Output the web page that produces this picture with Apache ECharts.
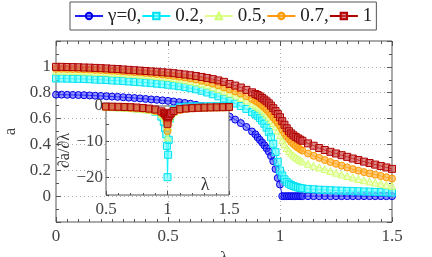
<!DOCTYPE html>
<html><head><meta charset="utf-8">
<script src="https://cdn.jsdelivr.net/npm/echarts@6/dist/echarts.min.js"></script>
<style>html,body{margin:0;padding:0;background:#fff}#c{width:432px;height:257px}</style>
</head><body><div id="c"></div>
<script>
// main plot: lambda grid
const lam = [0,0.025,0.05,0.075,0.1,0.125,0.15,0.175,0.2,0.225,0.25,0.275,0.3,0.325,0.35,0.375,0.4,0.425,0.45,0.475,0.5,0.525,0.55,0.575,0.6,0.625,0.65,0.675,0.7,0.725,0.75,0.775,0.8,0.825,0.85,0.875,
  0.89,0.9,0.91,0.92,0.93,0.94,0.95,0.96,0.97,0.98,0.99,1.0,1.01,1.02,1.03,1.04,1.05,1.06,1.07,1.08,1.09,1.1,
  1.125,1.15,1.175,1.2,1.225,1.25,1.275,1.3,1.325,1.35,1.375,1.4,1.425,1.45,1.475,1.5];
const a_g0 = [0.785,0.785,0.784,0.783,0.782,0.781,0.779,0.777,0.775,0.773,0.770,0.768,0.765,0.762,0.759,0.756,0.752,0.748,0.745,0.741,0.737,0.732,0.727,0.721,0.715,0.706,0.697,0.685,0.672,0.657,0.637,0.615,0.592,0.565,0.535,0.500,
  0.478,0.455,0.435,0.415,0.393,0.370,0.345,0.310,0.270,0.210,0.140,0.090,0,0,0,0,0,0,0,0,0,0,
  0,0,0,0,0,0,0,0,0,0,0,0,0,0,0,0];
const a_g02 = [0.910,0.910,0.909,0.908,0.907,0.906,0.904,0.902,0.900,0.898,0.895,0.893,0.890,0.887,0.884,0.881,0.878,0.874,0.870,0.866,0.862,0.856,0.850,0.843,0.835,0.826,0.815,0.802,0.788,0.772,0.755,0.737,0.717,0.697,0.675,0.650,
  0.635,0.622,0.605,0.585,0.560,0.530,0.495,0.455,0.405,0.340,0.265,0.198,0.160,0.130,0.110,0.096,0.086,0.078,0.072,0.067,0.063,0.060,
  0.056,0.053,0.050,0.048,0.046,0.044,0.042,0.041,0.039,0.038,0.036,0.035,0.033,0.031,0.029,0.027];
const a_g05 = [0.970,0.970,0.969,0.968,0.967,0.965,0.964,0.962,0.960,0.958,0.955,0.953,0.950,0.947,0.944,0.940,0.937,0.933,0.929,0.925,0.920,0.914,0.908,0.900,0.890,0.880,0.869,0.857,0.843,0.828,0.812,0.795,0.778,0.760,0.740,0.718,
  0.703,0.692,0.679,0.664,0.648,0.630,0.611,0.590,0.566,0.540,0.507,0.470,0.432,0.400,0.372,0.350,0.331,0.315,0.301,0.289,0.278,0.268,
  0.250,0.235,0.222,0.209,0.195,0.181,0.168,0.156,0.144,0.133,0.123,0.114,0.105,0.097,0.088,0.080];
const a_g07 = [0.985,0.985,0.984,0.983,0.982,0.980,0.979,0.977,0.975,0.973,0.970,0.968,0.965,0.962,0.959,0.956,0.952,0.948,0.944,0.940,0.935,0.930,0.924,0.918,0.910,0.902,0.893,0.882,0.870,0.857,0.842,0.825,0.810,0.793,0.773,0.752,
  0.738,0.728,0.716,0.702,0.687,0.670,0.652,0.632,0.610,0.588,0.567,0.545,0.515,0.487,0.462,0.440,0.420,0.403,0.388,0.375,0.363,0.352,
  0.330,0.312,0.296,0.279,0.264,0.250,0.236,0.222,0.209,0.197,0.186,0.176,0.166,0.156,0.146,0.136];
const a_g1 = [1.000,1.000,0.999,0.998,0.997,0.995,0.994,0.992,0.990,0.988,0.985,0.983,0.980,0.977,0.974,0.971,0.968,0.965,0.962,0.958,0.955,0.951,0.946,0.941,0.935,0.929,0.922,0.914,0.905,0.895,0.884,0.868,0.855,0.840,0.822,0.803,
  0.790,0.782,0.772,0.760,0.747,0.733,0.718,0.700,0.680,0.658,0.635,0.610,0.580,0.552,0.525,0.502,0.485,0.470,0.458,0.447,0.437,0.428,
  0.408,0.390,0.372,0.357,0.343,0.330,0.317,0.304,0.291,0.279,0.267,0.256,0.244,0.233,0.222,0.211];

// inset: derivative
const dlam = [0.5,0.55,0.6,0.65,0.7,0.75,0.8,0.85,0.9,0.95,0.97,0.98,0.99,0.995,1.0,1.005,1.01,1.02,1.03,1.05,1.1,1.15,1.2,1.25,1.3,1.35,1.4,1.45,1.5];
const d_g02 = [-0.2,-0.25,-0.32,-0.4,-0.52,-0.68,-0.85,-1.1,-1.6,-3.0,-4.5,-6.2,-8.0,-11.2,-20,-13.7,-9.5,-3.5,-2.0,-1.0,-0.3,-0.15,-0.1,-0.08,-0.07,-0.06,-0.06,-0.05,-0.05];
const d_g05 = [-0.3,-0.35,-0.42,-0.5,-0.62,-0.75,-0.9,-1.1,-1.45,-2.2,-2.8,-3.3,-4.2,-5.5,-8.8,-5.8,-4.4,-3.2,-2.5,-1.7,-0.95,-0.65,-0.52,-0.45,-0.42,-0.38,-0.35,-0.33,-0.3];
const d_g07 = [-0.25,-0.3,-0.36,-0.44,-0.54,-0.66,-0.8,-1.0,-1.35,-2.0,-2.4,-2.8,-3.4,-4.2,-7.1,-4.5,-3.6,-2.8,-2.3,-1.7,-1.1,-0.8,-0.65,-0.55,-0.5,-0.45,-0.42,-0.4,-0.38];
const d_g1 = [-0.15,-0.18,-0.22,-0.27,-0.33,-0.42,-0.55,-0.72,-1.0,-1.5,-1.9,-2.2,-2.6,-3.0,-5.0,-3.2,-2.8,-2.3,-1.9,-1.4,-0.9,-0.7,-0.6,-0.5,-0.45,-0.4,-0.37,-0.34,-0.3];

const names = ['γ=0,','0.2,','0.5,','0.7,','1'];
const mainData = [a_g0, a_g02, a_g05, a_g07, a_g1];
const insetData = [null, d_g02, d_g05, d_g07, d_g1];

const styles = [
  {sym:'circle',   line:'#2020ff', fill:'rgba(60,60,255,0.55)',  border:'#0000e6'},
  {sym:'rect',     line:'#00f0ff', fill:'rgba(90,255,255,0.6)',  border:'#00e0f0'},
  {sym:'triangle', line:'#dfff8a', fill:'rgba(235,255,170,0.65)',border:'#d0ff70'},
  {sym:'circle',   line:'#ff9a10', fill:'rgba(255,175,50,0.65)', border:'#ff9900'},
  {sym:'rect',     line:'#b00000', fill:'rgba(205,70,70,0.65)',  border:'#b00000'}
];

const FONT = 'Liberation Serif';
const AX = '#555';
const series = [];
mainData.forEach((vals, k) => {
  const s = styles[k];
  series.push({
    name: names[k], type: 'line', xAxisIndex: 0, yAxisIndex: 0, z: 2,
    data: lam.map((x, i) => [x, vals[i]]),
    symbol: s.sym, symbolSize: 7, showAllSymbol: true,
    lineStyle: {width: 1, color: s.line},
    itemStyle: {color: s.fill, borderColor: s.border, borderWidth: 1},
    animation: false, silent: true
  });
});
insetData.forEach((vals, k) => {
  if (!vals) return;
  const s = styles[k];
  series.push({
    name: names[k], type: 'line', xAxisIndex: 2, yAxisIndex: 2, z: 6,
    data: dlam.map((x, i) => [x, vals[i]]),
    symbol: s.sym, symbolSize: 7, showAllSymbol: true,
    lineStyle: {width: 1, color: s.line},
    itemStyle: {color: s.fill, borderColor: s.border, borderWidth: 1},
    animation: false, silent: true
  });
});

const lbl = {fontFamily: FONT, fontSize: 17, color: '#444'};
const dotted = {show: true, lineStyle: {color: '#b0b0b0', type: [1, 3], width: 1}};
const noLine = {show: false, onZero: false};

const option = {
  animation: false,
  legend: {
    data: names, left: 70, top: 2, orient: 'horizontal',
    itemWidth: 28, itemHeight: 8, itemGap: 0,
    padding: [3, 4], borderColor: '#555', borderWidth: 1, backgroundColor: '#fff',
    selectedMode: false,
    textStyle: {fontFamily: FONT, fontSize: 19, color: '#222', lineHeight: 22}
  },
  grid: [
    {left: 56, right: 40, top: 41, bottom: 35, show: true, borderColor: AX, borderWidth: 1, backgroundColor: 'transparent', outerBoundsMode: 'none', containLabel: false},
    {left: 106, right: 203, top: 106, bottom: 62, show: true, borderColor: AX, borderWidth: 1, backgroundColor: '#fff', z: 3, outerBoundsMode: 'none', containLabel: false}
  ],
  xAxis: [
    {type: 'value', gridIndex: 0, min: 0, max: 1.5, interval: 0.5, position: 'bottom',
     axisLine: noLine, axisTick: {inside: true, length: 5, lineStyle: {color: AX}},
     minorTick: {show: true, splitNumber: 10, length: 3, lineStyle: {color: AX}},
     axisLabel: Object.assign({margin: 6}, lbl), splitLine: dotted,
     name: 'λ', nameLocation: 'middle', nameGap: 24, nameTextStyle: {fontFamily: FONT, fontSize: 17, color: '#444'}},
    {type: 'value', gridIndex: 0, min: 0, max: 1.5, interval: 0.5, position: 'top',
     axisLine: noLine, axisTick: {inside: true, length: 5, lineStyle: {color: AX}},
     minorTick: {show: true, splitNumber: 10, length: 3, lineStyle: {color: AX}},
     axisLabel: {show: false}, splitLine: {show: false}},
    {type: 'value', gridIndex: 1, min: 0.5, max: 1.5, interval: 0.5, position: 'bottom', z: 4,
     axisLine: noLine, axisTick: {inside: true, length: 4, lineStyle: {color: AX}},
     minorTick: {show: true, splitNumber: 5, length: 2, lineStyle: {color: AX}},
     axisLabel: Object.assign({margin: 6}, lbl), splitLine: dotted,
     name: 'λ', nameLocation: 'end', nameGap: -24,
     nameTextStyle: {fontFamily: FONT, fontSize: 18, color: '#333', align: 'center', verticalAlign: 'bottom', padding: [0, 0, 1, 0]}}
  ],
  yAxis: [
    {type: 'value', gridIndex: 0, min: -0.2, max: 1.2, interval: 0.2, position: 'left',
     axisLine: noLine, axisTick: {inside: true, length: 5, lineStyle: {color: AX}},
     minorTick: {show: true, splitNumber: 2, length: 3, lineStyle: {color: AX}},
     axisLabel: Object.assign({margin: 5, formatter: v => (v < -0.05 || v > 1.05) ? '' : String(+v.toFixed(1))}, lbl),
     splitLine: dotted,
     name: 'a', nameLocation: 'middle', nameGap: 31, nameTextStyle: {fontFamily: FONT, fontSize: 17, color: '#444'}},
    {type: 'value', gridIndex: 0, min: -0.2, max: 1.2, interval: 0.2, position: 'right',
     axisLine: noLine, axisTick: {inside: true, length: 5, lineStyle: {color: AX}},
     minorTick: {show: true, splitNumber: 2, length: 3, lineStyle: {color: AX}},
     axisLabel: {show: false}, splitLine: {show: false}},
    {type: 'value', gridIndex: 1, min: -25, max: 0, interval: 5, position: 'left', z: 4,
     axisLine: noLine, axisTick: {inside: true, length: 3, lineStyle: {color: AX}},
     axisLabel: Object.assign({margin: 3, formatter: v => (Math.round(v) % 10 === 0) ? (v < 0 ? '\u2212' + (-v) : String(v)) : ''}, lbl),
     splitLine: {show: true, lineStyle: {color: ['rgba(0,0,0,0)', '#b0b0b0'], type: [1, 3], width: 1}},
     name: '∂a/∂λ', nameLocation: 'middle', nameGap: -17,
     nameTextStyle: {fontFamily: FONT, fontSize: 16, color: '#333'}}
  ],
  series: series
};
const chart = echarts.init(document.getElementById('c'), null, {renderer: 'canvas'});
chart.setOption(option);
</script></body></html>
